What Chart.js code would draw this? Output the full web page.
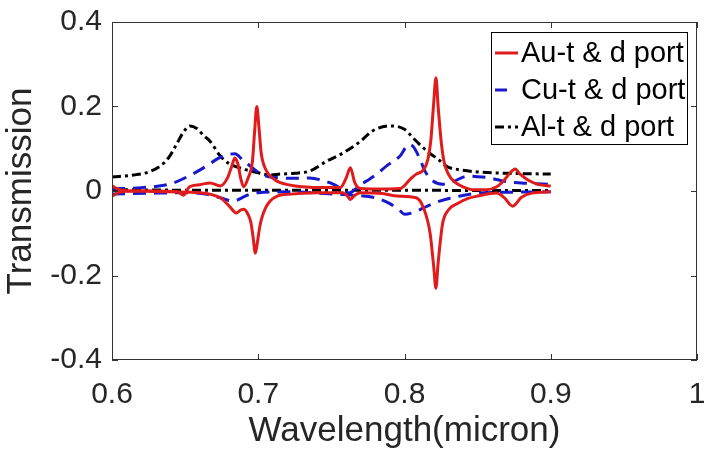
<!DOCTYPE html>
<html>
<head>
<meta charset="utf-8">
<script src="https://cdn.jsdelivr.net/npm/chart.js@4/dist/chart.umd.min.js"></script>
<style>
  html, body { margin: 0; padding: 0; background: #fff; }
  #wrap { width: 704px; height: 452px; }
</style>
</head>
<body>
<div id="wrap"><canvas id="my-canvas" width="704" height="452"></canvas></div>
<script>
// wavelength (micron) and transmission
const auTW = [0.600,0.605,0.615,0.630,0.645,0.649,0.653,0.660,0.667,0.674,0.679,0.682,0.684,0.686,0.688,0.690,0.693,0.696,0.6975,0.699,0.7005,0.702,0.704,0.707,0.712,0.720,0.730,0.745,0.756,0.760,0.763,0.766,0.770,0.780,0.790,0.797,0.804,0.808,0.813,0.816,0.818,0.820,0.8215,0.823,0.825,0.827,0.830,0.834,0.840,0.848,0.856,0.863,0.868,0.872,0.8756,0.879,0.885,0.892,0.900];
const auT  = [0.012,0.003,0.000,0.000,-0.002,-0.010,0.010,0.015,0.019,0.012,0.031,0.060,0.078,0.065,0.030,0.010,0.030,0.070,0.140,0.200,0.150,0.090,0.060,0.040,0.025,0.015,0.010,0.008,0.008,0.030,0.055,0.020,0.006,0.005,0.005,0.006,0.028,0.040,0.050,0.075,0.120,0.210,0.268,0.200,0.120,0.070,0.040,0.022,0.010,0.003,0.003,0.010,0.025,0.042,0.052,0.040,0.025,0.015,0.012];

const auDW = [0.600,0.605,0.615,0.640,0.660,0.674,0.680,0.685,0.688,0.690,0.693,0.695,0.6965,0.698,0.6995,0.701,0.7025,0.705,0.708,0.713,0.720,0.740,0.758,0.761,0.763,0.766,0.770,0.785,0.795,0.808,0.813,0.8175,0.820,0.8215,0.823,0.826,0.830,0.836,0.843,0.850,0.863,0.868,0.874,0.880,0.887,0.900];
const auD  = [-0.012,-0.003,0.000,-0.002,-0.004,-0.016,-0.035,-0.052,-0.045,-0.043,-0.055,-0.075,-0.110,-0.147,-0.120,-0.085,-0.063,-0.040,-0.024,-0.012,-0.008,-0.004,-0.004,-0.012,-0.020,-0.010,-0.004,-0.006,-0.012,-0.016,-0.040,-0.100,-0.180,-0.230,-0.170,-0.078,-0.045,-0.030,-0.018,-0.012,-0.005,-0.015,-0.036,-0.015,-0.005,-0.002];

const cuTW = [0.600,0.620,0.640,0.655,0.665,0.672,0.678,0.684,0.690,0.695,0.699,0.705,0.715,0.725,0.735,0.745,0.752,0.758,0.762,0.766,0.770,0.776,0.781,0.788,0.797,0.803,0.806,0.810,0.814,0.819,0.826,0.833,0.843,0.850,0.858,0.870,0.885,0.900];
const cuT  = [0.005,0.008,0.017,0.040,0.060,0.076,0.085,0.088,0.071,0.058,0.047,0.036,0.031,0.030,0.031,0.024,0.015,0.003,-0.005,0.003,0.015,0.028,0.040,0.060,0.083,0.110,0.105,0.080,0.047,0.025,0.016,0.022,0.035,0.034,0.031,0.022,0.018,0.016];

const cuDW = [0.600,0.630,0.650,0.665,0.674,0.683,0.690,0.694,0.700,0.720,0.745,0.765,0.780,0.790,0.797,0.800,0.805,0.810,0.816,0.824,0.831,0.838,0.850,0.870,0.900];
const cuD  = [-0.007,-0.005,-0.004,-0.008,-0.016,-0.024,-0.014,-0.008,-0.004,-0.002,-0.006,-0.010,-0.016,-0.030,-0.047,-0.055,-0.052,-0.045,-0.035,-0.024,-0.017,-0.012,-0.005,-0.003,-0.002];

const alTW = [0.600,0.615,0.625,0.633,0.639,0.644,0.649,0.6533,0.658,0.663,0.667,0.674,0.680,0.690,0.700,0.708,0.715,0.725,0.735,0.747,0.758,0.770,0.778,0.790,0.800,0.806,0.812,0.817,0.823,0.829,0.838,0.850,0.870,0.900];
const alT  = [0.033,0.038,0.045,0.059,0.080,0.110,0.140,0.154,0.148,0.130,0.118,0.083,0.065,0.052,0.043,0.038,0.040,0.042,0.047,0.071,0.090,0.118,0.142,0.154,0.146,0.125,0.105,0.090,0.075,0.058,0.050,0.045,0.042,0.040];

const alDW = [0.600,0.650,0.700,0.750,0.800,0.850,0.900];
const alD  = [0.003,0.002,0.002,0.002,0.002,0.001,0.001];

const legendLabels = ['Au-t & d port', 'Cu-t & d port', 'Al-t & d port'];
const xTickLabels = ['0.6', '0.7', '0.8', '0.9', '1'];
const yTickLabels = ['-0.4', '-0.2', '0', '0.2', '0.4'];

const RED = '#e01b1b', BLUE = '#1818cc', BLACK = '#000000';
const DASH_CU = [13, 8];
const DASH_AL = [9, 4, 3, 4];
const LW = 3;

function pts(w, v) { return w.map((x, i) => ({ x: x, y: v[i] })); }

function line(label, w, v, color, dash) {
  return {
    label: label,
    data: pts(w, v),
    borderColor: color,
    backgroundColor: color,
    borderWidth: LW,
    borderDash: dash,
    pointRadius: 0,
    fill: false,
    cubicInterpolationMode: 'monotone'
  };
}

// box round the plot, inward tick marks, legend in the upper right
const frame = {
  id: 'frame',
  afterDraw(chart) {
    const ctx = chart.ctx;
    const a = chart.chartArea;
    const xs = chart.scales.x, ys = chart.scales.y;
    ctx.save();
    ctx.strokeStyle = '#333';
    ctx.lineWidth = 1;
    ctx.setLineDash([]);
    ctx.strokeRect(a.left + 0.5, a.top + 0.5, a.right - a.left - 1, a.bottom - a.top - 1);
    const tl = 6;
    ctx.beginPath();
    xs.ticks.forEach(t => {
      const px = Math.round(xs.getPixelForValue(t.value)) + 0.5;
      ctx.moveTo(px, a.bottom); ctx.lineTo(px, a.bottom - tl);
      ctx.moveTo(px, a.top); ctx.lineTo(px, a.top + tl);
    });
    ys.ticks.forEach(t => {
      const py = Math.round(ys.getPixelForValue(t.value)) + 0.5;
      ctx.moveTo(a.left, py); ctx.lineTo(a.left + tl, py);
      ctx.moveTo(a.right, py); ctx.lineTo(a.right - tl, py);
    });
    ctx.stroke();

    // legend
    const bx = 491, by = 32, bw = 196, bh = 112;
    ctx.fillStyle = '#fff';
    ctx.fillRect(bx, by, bw, bh);
    ctx.strokeStyle = '#000';
    ctx.strokeRect(bx + 0.5, by + 0.5, bw, bh);
    const cols = [RED, BLUE, BLACK];
    const dashes = [[], [12, 30], DASH_AL];
    ctx.font = '29px "Liberation Sans", Arial, sans-serif';
    ctx.textBaseline = 'middle';
    legendLabels.forEach((lab, i) => {
      const y = by + 21 + i * 37;
      ctx.strokeStyle = cols[i];
      ctx.lineWidth = LW;
      ctx.setLineDash(dashes[i]);
      ctx.beginPath();
      ctx.moveTo(bx + 4, y); ctx.lineTo(bx + 27, y);
      ctx.stroke();
      ctx.setLineDash([]);
      ctx.fillStyle = '#000';
      ctx.fillText(lab, bx + 30, y + 1);
    });
    ctx.restore();
  }
};

const ctx = document.getElementById('my-canvas').getContext('2d');
const chart = new Chart(ctx, {
  type: 'line',
  data: {
    datasets: [
      line('Au-t port', auTW, auT, RED, []),
      line('Au-d port', auDW, auD, RED, []),
      line('Cu-t port', cuTW, cuT, BLUE, DASH_CU),
      line('Cu-d port', cuDW, cuD, BLUE, DASH_CU),
      line('Al-t port', alTW, alT, BLACK, DASH_AL),
      line('Al-d port', alDW, alD, BLACK, DASH_AL)
    ]
  },
  options: {
    responsive: false,
    animation: false,
    devicePixelRatio: 1,
    layout: { padding: { top: 22, right: 7, left: 0, bottom: 0 } },
    plugins: { legend: { display: false }, tooltip: { enabled: false } },
    scales: {
      x: {
        type: 'linear',
        min: 0.6, max: 1,
        grid: { display: false, drawTicks: false },
        border: { display: false },
        ticks: {
          stepSize: 0.1, autoSkip: false, maxRotation: 0, padding: 17,
          color: '#262626',
          font: { family: '"Liberation Sans", Arial, sans-serif', size: 30 },
          callback: (v, i) => xTickLabels[i]
        },
        title: {
          display: true, text: 'Wavelength(micron)', color: '#262626',
          font: { family: '"Liberation Sans", Arial, sans-serif', size: 35 },
          padding: { top: 0, bottom: 0 }
        },
        afterFit: s => { s.height = 92; s.paddingLeft = 0; s.paddingRight = 0; }
      },
      y: {
        min: -0.4, max: 0.4,
        grid: { display: false, drawTicks: false },
        border: { display: false },
        ticks: {
          stepSize: 0.2, padding: 10,
          color: '#262626',
          font: { family: '"Liberation Sans", Arial, sans-serif', size: 30 },
          callback: (v, i) => yTickLabels[i]
        },
        title: {
          display: true, text: 'Transmission', color: '#262626',
          font: { family: '"Liberation Sans", Arial, sans-serif', size: 35 },
          padding: { top: 0, bottom: 0 }
        },
        afterFit: s => { s.width = 112; s.paddingTop = 0; s.paddingBottom = 0; }
      }
    }
  },
  plugins: [frame]
});
</script>
</body>
</html>
